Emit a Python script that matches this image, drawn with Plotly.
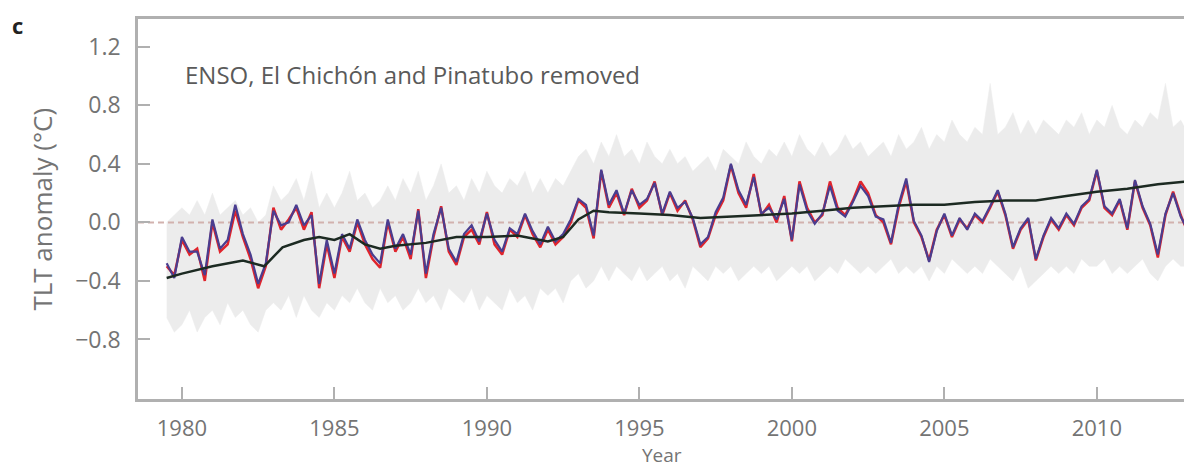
import plotly.graph_objects as go

# quarterly sampling 1979.5 ... 2013.0
years = [1979.5 + 0.25 * i for i in range(135)]

red = [
    -0.30, -0.36,
    -0.12, -0.22, -0.18, -0.40,
    0.00, -0.20, -0.15, 0.08,
    -0.10, -0.25, -0.45, -0.30,
    0.10, -0.05, 0.02, 0.10,
    -0.05, 0.07, -0.45, -0.15,
    -0.38, -0.10, -0.20, 0.00,
    -0.15, -0.25, -0.31, 0.00,
    -0.20, -0.10, -0.25, 0.09,
    -0.38, -0.10, 0.11, -0.20,
    -0.29, -0.10, -0.05, -0.15,
    0.07, -0.15, -0.22, -0.05,
    -0.10, 0.05, -0.08, -0.17,
    -0.05, -0.15, -0.10, 0.00,
    0.15, 0.10, -0.11, 0.35,
    0.10, 0.20, 0.05, 0.23,
    0.10, 0.15, 0.28, 0.05,
    0.20, 0.08, 0.15, 0.02,
    -0.17, -0.11, 0.05, 0.15,
    0.39, 0.20, 0.10, 0.33,
    0.05, 0.12, 0.00, 0.18,
    -0.13, 0.28, 0.10, 0.00,
    0.05, 0.28, 0.10, 0.05,
    0.15, 0.28, 0.20, 0.05,
    0.00, -0.15, 0.10, 0.28,
    0.00, -0.10, -0.26, -0.05,
    0.05, -0.10, 0.02, -0.04,
    0.05, 0.00, 0.10, 0.21,
    0.05, -0.18, -0.05, 0.02,
    -0.26, -0.10, 0.02, -0.05,
    0.05, -0.02, 0.10, 0.15,
    0.35, 0.10, 0.05, 0.15,
    -0.05, 0.28, 0.10, -0.02,
    -0.24, 0.05, 0.21, 0.05,
    -0.08,
]

blue = [
    -0.28, -0.38,
    -0.10, -0.20, -0.20, -0.36,
    0.02, -0.18, -0.12, 0.12,
    -0.08, -0.22, -0.42, -0.28,
    0.08, -0.02, 0.00, 0.12,
    -0.02, 0.05, -0.42, -0.12,
    -0.35, -0.08, -0.18, 0.02,
    -0.12, -0.22, -0.28, 0.02,
    -0.18, -0.08, -0.22, 0.08,
    -0.35, -0.08, 0.10, -0.18,
    -0.27, -0.08, -0.02, -0.13,
    0.06, -0.12, -0.20, -0.04,
    -0.08, 0.06, -0.06, -0.15,
    -0.03, -0.13, -0.08, 0.02,
    0.16, 0.12, -0.09, 0.36,
    0.12, 0.22, 0.06, 0.22,
    0.12, 0.16, 0.27, 0.06,
    0.21, 0.10, 0.14, 0.03,
    -0.15, -0.10, 0.07, 0.17,
    0.40, 0.22, 0.12, 0.31,
    0.06, 0.10, 0.02, 0.16,
    -0.12, 0.26, 0.08, -0.01,
    0.06, 0.25, 0.08, 0.04,
    0.14, 0.25, 0.18, 0.04,
    0.02, -0.14, 0.12, 0.30,
    0.01, -0.09, -0.27, -0.06,
    0.06, -0.09, 0.03, -0.05,
    0.06, 0.01, 0.11, 0.22,
    0.06, -0.17, -0.04, 0.03,
    -0.25, -0.09, 0.03, -0.04,
    0.06, -0.01, 0.11, 0.16,
    0.36, 0.11, 0.06, 0.16,
    -0.04, 0.29, 0.11, -0.01,
    -0.22, 0.06, 0.20, 0.04,
    -0.06,
]

grey_upper = [
    0.00, 0.05,
    0.10, 0.05, 0.15, 0.05,
    0.20, 0.05, 0.10, 0.15,
    0.05, 0.10, 0.00, 0.05,
    0.25, 0.15, 0.20, 0.30,
    0.15, 0.35, 0.10, 0.20,
    0.10, 0.20, 0.35, 0.15,
    0.20, 0.10, 0.15, 0.25,
    0.15, 0.30, 0.20, 0.35,
    0.15, 0.25, 0.40, 0.20,
    0.25, 0.15, 0.30, 0.20,
    0.35, 0.25, 0.20, 0.30,
    0.25, 0.35, 0.20, 0.30,
    0.20, 0.30, 0.25, 0.35,
    0.45, 0.50, 0.40, 0.55,
    0.45, 0.60, 0.45, 0.50,
    0.40, 0.55, 0.45, 0.40,
    0.50, 0.40, 0.45, 0.35,
    0.40, 0.45, 0.35, 0.50,
    0.45, 0.40, 0.55, 0.45,
    0.40, 0.50, 0.45, 0.55,
    0.45, 0.60, 0.50, 0.45,
    0.55, 0.45, 0.50, 0.60,
    0.50, 0.55, 0.45, 0.50,
    0.55, 0.45, 0.60, 0.50,
    0.55, 0.65, 0.50, 0.60,
    0.55, 0.70, 0.60, 0.55,
    0.65, 0.60, 0.95, 0.60,
    0.65, 0.75, 0.60, 0.70,
    0.60, 0.70, 0.65, 0.60,
    0.70, 0.65, 0.75, 0.60,
    0.70, 0.65, 0.80, 0.65,
    0.60, 0.70, 0.65, 0.75,
    0.70, 0.95, 0.65, 0.70,
    0.60,
]

grey_lower = [
    -0.65, -0.75,
    -0.70, -0.60, -0.75, -0.65,
    -0.60, -0.70, -0.55, -0.65,
    -0.60, -0.70, -0.75, -0.60,
    -0.55, -0.60, -0.50, -0.65,
    -0.50, -0.60, -0.65, -0.55,
    -0.60, -0.50, -0.55, -0.45,
    -0.55, -0.60, -0.45, -0.55,
    -0.50, -0.60, -0.55, -0.45,
    -0.55, -0.50, -0.60, -0.45,
    -0.50, -0.55, -0.45, -0.60,
    -0.50, -0.55, -0.60, -0.45,
    -0.55, -0.50, -0.60, -0.45,
    -0.50, -0.45, -0.55, -0.40,
    -0.35, -0.45, -0.40, -0.30,
    -0.40, -0.30, -0.35, -0.40,
    -0.30, -0.40, -0.35, -0.30,
    -0.40, -0.35, -0.45, -0.30,
    -0.35, -0.40, -0.30, -0.35,
    -0.30, -0.40, -0.35, -0.30,
    -0.35, -0.30, -0.40, -0.35,
    -0.30, -0.35, -0.30, -0.40,
    -0.35, -0.30, -0.35, -0.25,
    -0.30, -0.35, -0.30, -0.35,
    -0.30, -0.25, -0.35, -0.30,
    -0.35, -0.30, -0.40, -0.30,
    -0.35, -0.25, -0.30, -0.35,
    -0.30, -0.35, -0.25, -0.30,
    -0.35, -0.40, -0.30, -0.45,
    -0.40, -0.35, -0.30, -0.35,
    -0.30, -0.35, -0.25, -0.30,
    -0.30, -0.25, -0.35, -0.30,
    -0.35, -0.30, -0.25, -0.35,
    -0.40, -0.30, -0.25, -0.30,
    -0.30,
]

mean_years = [1979.5, 1980, 1981, 1982, 1982.7, 1983.3, 1984, 1984.5, 1985, 1985.5,
              1986, 1986.5, 1987, 1988, 1989, 1990, 1991, 1992, 1992.5, 1993,
              1993.5, 1994, 1995, 1996, 1997, 1998, 1999, 2000, 2001, 2002,
              2003, 2004, 2005, 2006, 2007, 2008, 2009, 2010, 2011, 2012, 2013]
mean_vals = [-0.38, -0.35, -0.30, -0.26, -0.30, -0.17, -0.12, -0.10, -0.12, -0.08,
             -0.15, -0.18, -0.16, -0.14, -0.10, -0.10, -0.09, -0.13, -0.10, 0.02,
             0.08, 0.07, 0.06, 0.05, 0.03, 0.04, 0.05, 0.06, 0.08, 0.10,
             0.11, 0.12, 0.12, 0.14, 0.15, 0.15, 0.18, 0.21, 0.23, 0.26, 0.28]

y_ticks = [-0.8, -0.4, 0.0, 0.4, 0.8, 1.2]
y_tick_labels = ["\u22120.8", "\u22120.4", "0.0", "0.4", "0.8", "1.2"]
x_ticks = [1980, 1985, 1990, 1995, 2000, 2005, 2010]

FONT = "Open Sans"
GREY_TXT = "#747474"
AXIS = "#b0b0b0"

fig = go.Figure()
fig.add_trace(go.Scatter(x=years, y=grey_lower, mode="lines",
                         line=dict(color="#ececec", width=0.5), showlegend=False))
fig.add_trace(go.Scatter(x=years, y=grey_upper, mode="lines", fill="tonexty",
                         fillcolor="#ececec",
                         line=dict(color="#ececec", width=0.5), showlegend=False))
fig.add_trace(go.Scatter(x=[1978.56, years[-1]], y=[0, 0], mode="lines",
                         line=dict(color="#d2b2ae", width=2, dash="6px,4px"),
                         showlegend=False))
fig.add_trace(go.Scatter(x=years, y=red, mode="lines",
                         line=dict(color="#e0242c", width=2.5), showlegend=False))
fig.add_trace(go.Scatter(x=years, y=blue, mode="lines",
                         line=dict(color="#4a3d8f", width=2.2), showlegend=False))
fig.add_trace(go.Scatter(x=mean_years, y=mean_vals, mode="lines",
                         line=dict(color="#1c2a22", width=2.5), showlegend=False))

fig.update_layout(
    width=1192, height=468,
    margin=dict(l=130, r=8, t=8, b=77),
    paper_bgcolor="white", plot_bgcolor="white",
    font=dict(family=FONT, size=22, color=GREY_TXT),
    xaxis=dict(range=[1978.56, 2013.12], tickvals=x_ticks,
               ticks="inside", ticklen=12, tickwidth=2, tickcolor=AXIS,
               showline=True, linecolor=AXIS, linewidth=2.5, mirror=True,
               showgrid=False, zeroline=False, ticklabelstandoff=8,
               tickfont=dict(size=22, color=GREY_TXT)),
    yaxis=dict(range=[-1.207, 1.39], tickvals=y_ticks, ticktext=y_tick_labels,
               ticks="inside", ticklen=12, tickwidth=2, tickcolor=AXIS,
               showline=True, linecolor=AXIS, linewidth=2.5,
               showgrid=False, zeroline=False, ticklabelstandoff=10,
               tickfont=dict(size=23, color=GREY_TXT)),
)

fig.add_annotation(text="ENSO, El Chich\u00f3n and Pinatubo removed",
                   xref="paper", yref="paper", x=0.0427, y=0.854,
                   xanchor="left", yanchor="middle", showarrow=False,
                   font=dict(size=24, color="#5a5a5a", family=FONT))
fig.add_annotation(text="<b>c</b>", xref="paper", yref="paper",
                   x=-0.114, y=0.985, xanchor="center", yanchor="middle",
                   showarrow=False, font=dict(size=22, color="#222", family=FONT))
fig.add_annotation(text="TLT anomaly (\u00b0C)", xref="paper", yref="paper",
                   x=-0.0911, y=0.501, xanchor="center", yanchor="middle",
                   textangle=-90, showarrow=False,
                   font=dict(size=26, color=GREY_TXT, family=FONT))
fig.add_annotation(text="Year", xref="paper", yref="paper",
                   x=0.497, y=-0.148, xanchor="center", yanchor="middle",
                   showarrow=False, font=dict(size=19, color=GREY_TXT, family=FONT))

fig.write_html("out.html")
